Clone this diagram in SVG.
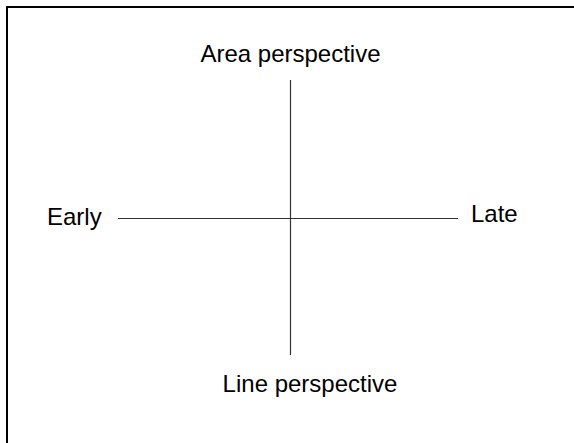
<svg xmlns="http://www.w3.org/2000/svg" width="574" height="443" viewBox="0 0 574 443">
<style>
.lbl{font-family:"Liberation Sans",Arial,sans-serif;font-size:24px;fill:#000}
.axis{stroke:#333;stroke-width:1.2;fill:none}
</style>
<rect x="0" y="0" width="574" height="443" fill="#fff"/>
<rect id="frame" x="7" y="7" width="600" height="500" fill="none" stroke="#000" stroke-width="2"/>
<g id="connectors">
<line class="axis" x1="290.5" y1="80" x2="290.5" y2="355"/>
<line class="axis" x1="118" y1="218.5" x2="458" y2="218.5"/>
</g>
<g id="area"><text class="lbl" x="290.5" y="62" text-anchor="middle">Area perspective</text></g>
<g id="line"><text class="lbl" x="310" y="392" text-anchor="middle">Line perspective</text></g>
<g id="early"><text class="lbl" x="47" y="225">Early</text></g>
<g id="late"><text class="lbl" x="471" y="222">Late</text></g>
</svg>
